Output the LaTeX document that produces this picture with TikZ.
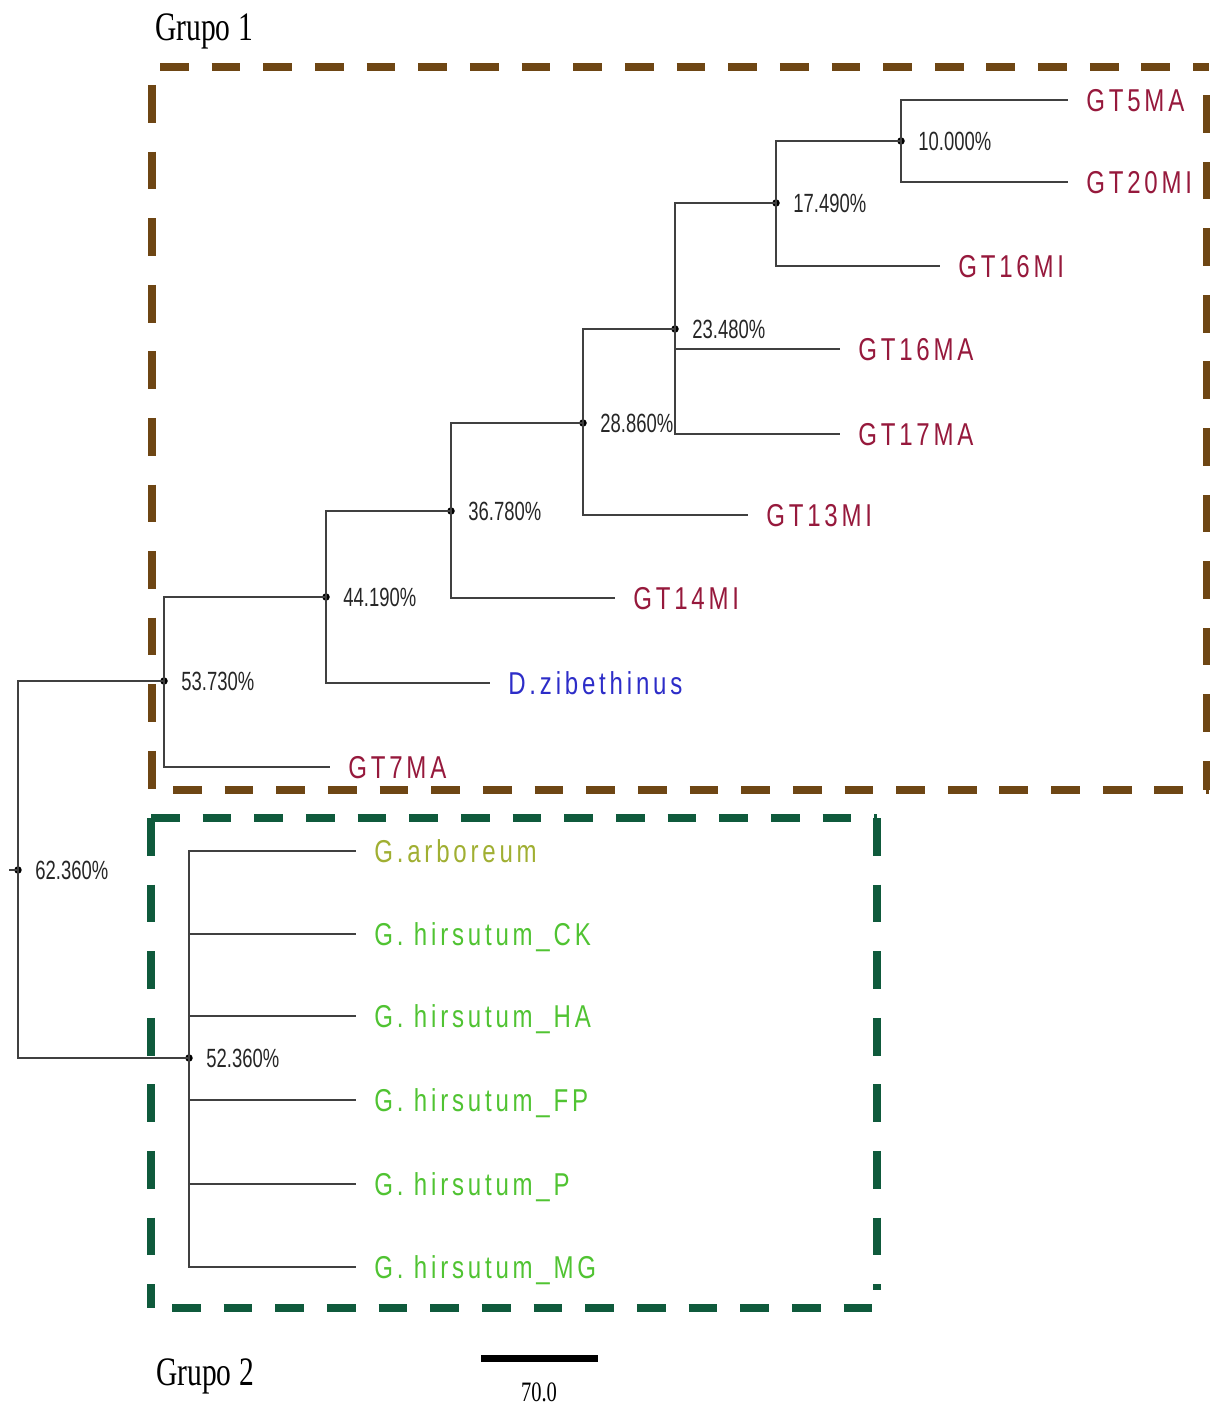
\documentclass[tikz,border=0pt]{standalone}
\usepackage{fontspec}
\usetikzlibrary{positioning}
\newfontfamily\leaffont[FakeStretch=0.76,LetterSpace=12]{Liberation Sans}
\newfontfamily\pctfont[FakeStretch=0.7]{Liberation Sans}
\newfontfamily\grpfont[FakeStretch=0.73]{Liberation Serif}
\definecolor{gtred}{RGB}{150, 25, 60}
\definecolor{dzblue}{RGB}{45, 45, 200}
\definecolor{arbolive}{RGB}{160, 175, 50}
\definecolor{hirsgreen}{RGB}{80, 195, 50}
\definecolor{grpbrown}{RGB}{110, 70, 20}
\definecolor{grpgreen}{RGB}{15, 90, 60}

\begin{document}
\begin{tikzpicture}[
  x=0.02cm, y=-0.02cm,
  nodedot/.style={circle, fill=black, inner sep=0pt, minimum size=0.15cm},
  leaf/.style={anchor=west, inner xsep=0.36cm, inner ysep=0pt, font=\leaffont\fontsize{18}{18}\selectfont, text height=12.9pt, text depth=0pt},
  pct/.style={inner sep=0pt, font=\pctfont\fontsize{15}{15}\selectfont, text=black!85, text height=10.7pt, text depth=0pt},
  grp/.style={anchor=west, inner sep=0pt, font=\grpfont\fontsize{23}{23}\selectfont, text height=15.2pt, text depth=0pt},
  branch/.style={line width=1.1pt, black!75},
  hdash/.style={line width=4.5pt, dash pattern=on 16.4pt off 13pt},
  vdash/.style={line width=4.5pt, dash pattern=on 21.5pt off 16.4pt}
]
  \useasboundingbox (0,0) rectangle (1209,1408);

  % group boxes
  \draw[hdash, grpbrown] (160,67) -- (1209,67);
  \draw[hdash, grpbrown] (173,790) -- (1209,790);
  \draw[vdash, grpbrown] (152,85) -- (152,790);
  \draw[vdash, grpbrown] (1207,95) -- (1207,790);
  \draw[hdash, grpgreen] (151,818) -- (877,818);
  \draw[hdash, grpgreen] (172,1308) -- (877,1308);
  \draw[vdash, grpgreen] (151,818) -- (151,1308);
  \draw[vdash, grpgreen] (877,818) -- (877,1290);

  \node[grp] (grp1) at (155,27) {Grupo 1};
  \node[grp] (grp2) at (156,1372) {Grupo 2};

  % internal nodes
  \node[nodedot] (root) at (18,870) {};
  \node[nodedot] (n53) at (164,681) {};
  \node[nodedot] (n44) at (326,597) {};
  \node[nodedot] (n36) at (451,511) {};
  \node[nodedot] (n28) at (583,423) {};
  \node[nodedot] (n23) at (675,329) {};
  \node[nodedot] (n17) at (776,203) {};
  \node[nodedot] (n10) at (901,141) {};
  \node[nodedot] (n52) at (189,1058) {};
  \coordinate (stub) at (9,870);

  \node[pct, right=0.26cm of root] (p62) {62.360\%};
  \node[pct, right=0.26cm of n53] (p53) {53.730\%};
  \node[pct, right=0.26cm of n44] (p44) {44.190\%};
  \node[pct, right=0.26cm of n36] (p36) {36.780\%};
  \node[pct, right=0.26cm of n28] (p28) {28.860\%};
  \node[pct, right=0.26cm of n23] (p23) {23.480\%};
  \node[pct, right=0.26cm of n17] (p17) {17.490\%};
  \node[pct, right=0.26cm of n10] (p10) {10.000\%};
  \node[pct, right=0.26cm of n52] (p52) {52.360\%};

  % leaves
  \node[leaf, text=gtred] (gt5ma) at (1068,100) {GT5MA};
  \node[leaf, text=gtred] (gt20mi) at (1068,182) {GT20MI};
  \node[leaf, text=gtred] (gt16mi) at (940,266) {GT16MI};
  \node[leaf, text=gtred] (gt16ma) at (840,349) {GT16MA};
  \node[leaf, text=gtred] (gt17ma) at (840,434) {GT17MA};
  \node[leaf, text=gtred] (gt13mi) at (748,515) {GT13MI};
  \node[leaf, text=gtred] (gt14mi) at (615,598) {GT14MI};
  \node[leaf, text=dzblue] (dzib) at (490,683) {D.zibethinus};
  \node[leaf, text=gtred] (gt7ma) at (330,767) {GT7MA};
  \node[leaf, text=arbolive] (garb) at (356,851) {G.arboreum};
  \node[leaf, text=hirsgreen] (hck) at (356,934) {G. hirsutum\_CK};
  \node[leaf, text=hirsgreen] (hha) at (356,1016) {G. hirsutum\_HA};
  \node[leaf, text=hirsgreen] (hfp) at (356,1100) {G. hirsutum\_FP};
  \node[leaf, text=hirsgreen] (hp) at (356,1184) {G. hirsutum\_P};
  \node[leaf, text=hirsgreen] (hmg) at (356,1267) {G. hirsutum\_MG};

  % branches
  \draw[branch] (stub) -- (root.center);
  \draw[branch] (root.center) |- (n53.center);
  \draw[branch] (root.center) |- (n52.center);
  \draw[branch] (n53.center) |- (n44.center);
  \draw[branch] (n53.center) |- (gt7ma.west);
  \draw[branch] (n44.center) |- (n36.center);
  \draw[branch] (n44.center) |- (dzib.west);
  \draw[branch] (n36.center) |- (n28.center);
  \draw[branch] (n36.center) |- (gt14mi.west);
  \draw[branch] (n28.center) |- (n23.center);
  \draw[branch] (n28.center) |- (gt13mi.west);
  \draw[branch] (n23.center) |- (n17.center);
  \draw[branch] (n23.center) |- (gt16ma.west);
  \draw[branch] (n23.center) |- (gt17ma.west);
  \draw[branch] (n17.center) |- (n10.center);
  \draw[branch] (n17.center) |- (gt16mi.west);
  \draw[branch] (n10.center) |- (gt5ma.west);
  \draw[branch] (n10.center) |- (gt20mi.west);
  \foreach \leafname in {garb, hck, hha, hfp, hp, hmg}
    \draw[branch] (n52.center) |- (\leafname.west);

  % scale bar
  \coordinate (bar1) at (481,1358);
  \coordinate (bar2) at (598,1358);
  \draw[line width=4pt] (bar1) -- (bar2);
  \node[inner sep=0pt, font=\grpfont\fontsize{16}{16}\selectfont, text height=10.8pt, text depth=0pt] (barlbl) at (539,1392) {70.0};
\end{tikzpicture}
\end{document}
